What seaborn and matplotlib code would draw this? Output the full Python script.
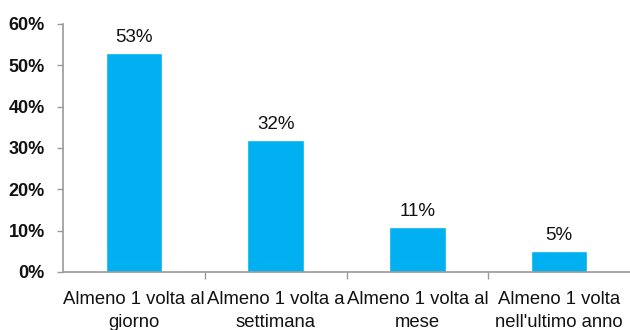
import matplotlib
matplotlib.use("Agg")
import matplotlib.pyplot as plt
from matplotlib.ticker import FixedLocator, PercentFormatter
import seaborn as sns
import pandas as pd

categories = [
    "Almeno 1 volta al\ngiorno",
    "Almeno 1 volta a\nsettimana",
    "Almeno 1 volta al\nmese",
    "Almeno 1 volta\nnell'ultimo anno",
]
values = [0.53, 0.32, 0.11, 0.05]
value_labels = ["53%", "32%", "11%", "5%"]

df = pd.DataFrame({"categoria": categories, "quota": values})

sns.set_theme(style="white")
plt.rcParams["font.family"] = ["Liberation Sans", "DejaVu Sans"]

fig = plt.figure(figsize=(6.3, 3.3), dpi=100)
ax = fig.add_axes([63 / 630, 58 / 330, 567 / 630, 248 / 330])

sns.barplot(data=df, x="categoria", y="quota", color="#00B0F0",
            saturation=1, width=0.4, ax=ax)

ax.set_xlim(-0.5, 3.5)
ax.set_ylim(0, 0.6)
ax.set_xlabel("")
ax.set_ylabel("")

# value labels above each bar
for i, (v, lab) in enumerate(zip(values, value_labels)):
    ax.annotate(lab, (i, v), xytext=(0, 5), textcoords="offset points",
                ha="center", va="bottom", fontsize=13.5, color="#111111")

ax.yaxis.set_major_locator(FixedLocator([0, 0.1, 0.2, 0.3, 0.4, 0.5, 0.6]))
ax.yaxis.set_major_formatter(PercentFormatter(1.0, decimals=0))
for t in ax.get_yticklabels():
    t.set_fontweight("bold")
    t.set_fontsize(13)
ax.tick_params(axis="y", which="major", left=True, length=4, width=1,
               color="#999999", pad=9, labelcolor="#111111")

ax.set_xticks(range(len(categories)))
ax.set_xticklabels(categories)
ax.tick_params(axis="x", which="major", length=0, pad=14)
for t in ax.get_xticklabels():
    t.set_fontsize(13.3)
    t.set_color("#111111")
    t.set_linespacing(1.45)
# separators between categories
ax.xaxis.set_minor_locator(FixedLocator([0.5, 1.5, 2.5]))
ax.tick_params(axis="x", which="minor", bottom=True, length=5, width=1,
               color="#999999")

for side in ["top", "right"]:
    ax.spines[side].set_visible(False)
for side in ["left", "bottom"]:
    ax.spines[side].set_color("#999999")
    ax.spines[side].set_linewidth(1.2)

fig.savefig("out.png", dpi=100, facecolor="white")
